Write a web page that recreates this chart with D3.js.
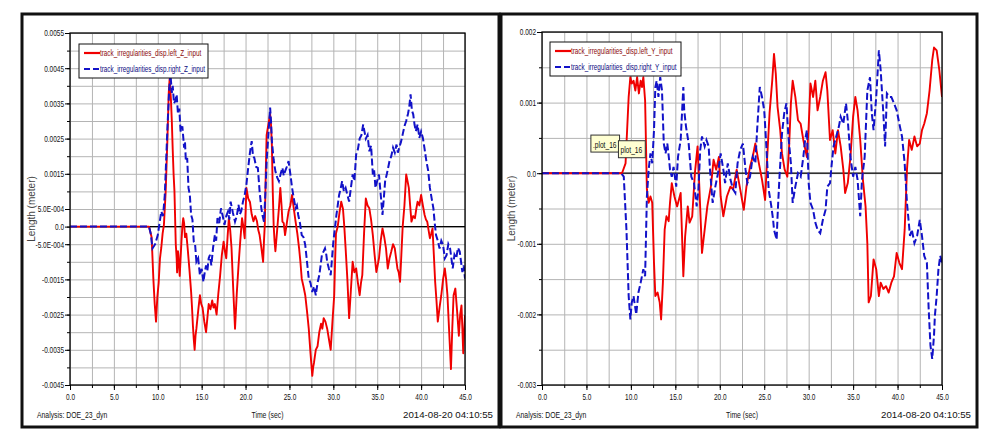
<!DOCTYPE html>
<html><head><meta charset="utf-8">
<script src="https://cdn.jsdelivr.net/npm/d3@7"></script>
<style>
body{margin:0;background:#fff;}
svg text{font-family:"Liberation Sans",Arial,sans-serif;}
</style></head><body>
<svg id="c" width="988" height="439"></svg>
<script>
// ---------- axis ticks & labels ----------
const timeTicks = [0,5,10,15,20,25,30,35,40,45];
const timeTickLabels = ["0.0","5.0","10.0","15.0","20.0","25.0","30.0","35.0","40.0","45.0"];
// vertical values are in millimetres (1 = 0.001 m)
const zTickValues = [5.5,4.5,3.5,2.5,1.5,0.5,0,-0.5,-1.5,-2.5,-3.5,-4.5];
const zTickLabels = ["0.0055","0.0045","0.0035","0.0025","0.0015","5.0E-004","0.0","-5.0E-004","-0.0015","-0.0025","-0.0035","-0.0045"];
const yTickValues = [2,1,0,-1,-2,-3];
const yTickLabels = ["0.002","0.001","0.0","-0.001","-0.002","-0.003"];

// ---------- series: left panel (Z), [time s, value mm] ----------
const zLeftPts = [[0,0],[9.0,0],[9.3,-0.3],[9.5,-1.5],[9.65,-2.2],[9.8,-2.7],[9.95,-2.0],[10.1,-1.6],[10.25,-0.9],[10.4,-0.6],[10.55,-0.2],[10.7,0.05],[10.9,1.0],[11.1,2.5],[11.25,3.8],[11.35,4.2],[11.5,3.6],[11.6,3.0],[11.7,2.2],[11.8,1.5],[11.9,1.0],[12.05,-0.5],[12.15,-0.9],[12.2,-1.3],[12.3,-0.7],[12.35,-0.8],[12.45,-1.2],[12.5,-1.4],[12.6,-0.9],[12.7,-0.4],[12.8,0.0],[12.9,0.24],[13.0,0.1],[13.1,-0.3],[13.25,-0.2],[13.4,-0.6],[13.6,-1.2],[13.8,-1.86],[13.9,-2.3],[14.0,-2.8],[14.1,-3.2],[14.2,-3.5],[14.3,-3.1],[14.4,-2.9],[14.6,-2.4],[14.8,-1.95],[14.95,-2.2],[15.1,-2.3],[15.3,-2.7],[15.5,-3.0],[15.65,-2.6],[15.8,-2.2],[16.0,-2.35],[16.2,-2.1],[16.35,-2.3],[16.5,-2.2],[16.7,-2.5],[16.9,-1.9],[17.1,-1.4],[17.3,-0.8],[17.5,-0.43],[17.65,-0.7],[17.8,-0.9],[17.95,-0.3],[18.1,0.24],[18.25,-0.1],[18.4,-0.6],[18.6,-1.8],[18.8,-2.9],[19.0,-1.9],[19.2,-1.1],[19.4,-0.4],[19.6,0.24],[19.75,0.0],[19.9,-0.33],[20.0,0.4],[20.1,1.1],[20.3,0.8],[20.5,0.7],[20.7,0.35],[20.9,0.15],[21.1,0.3],[21.3,0.15],[21.45,-0.1],[21.6,-0.24],[21.8,-0.6],[22.0,-1.0],[22.1,-0.4],[22.2,0.1],[22.3,1.5],[22.4,2.6],[22.6,2.9],[22.8,3.2],[22.9,2.9],[23.0,2.3],[23.1,1.0],[23.2,0.05],[23.3,-0.4],[23.4,-0.7],[23.6,-0.1],[23.8,0.52],[23.96,1.1],[24.1,0.6],[24.2,0.14],[24.35,0.1],[24.5,-0.24],[24.7,0.1],[24.9,0.43],[25.1,0.6],[25.3,0.9],[25.5,0.5],[25.7,0.14],[25.9,-0.2],[26.1,-0.62],[26.25,-1.0],[26.4,-1.48],[26.6,-1.7],[26.8,-1.95],[27.0,-2.4],[27.2,-2.9],[27.4,-3.6],[27.6,-4.24],[27.7,-4.0],[27.8,-3.86],[28.0,-3.5],[28.2,-3.4],[28.4,-3.0],[28.6,-2.76],[28.75,-2.9],[28.9,-2.6],[29.1,-2.7],[29.3,-2.9],[29.5,-3.2],[29.7,-3.5],[29.9,-2.7],[30.1,-1.95],[30.2,-1.0],[30.3,-0.2],[30.5,0],[30.7,0.4],[30.9,0.71],[31.1,0.5],[31.25,0.0],[31.4,-0.62],[31.6,-1.5],[31.8,-2.6],[32.0,-1.8],[32.2,-1.0],[32.4,-1.3],[32.6,-1.19],[32.8,-1.6],[33.0,-1.95],[33.15,-1.6],[33.3,-1.38],[33.5,-0.2],[33.7,0.8],[33.9,0.6],[34.1,0.52],[34.3,0.2],[34.5,-0.24],[34.7,-0.8],[34.9,-1.29],[35.05,-1.1],[35.2,-0.9],[35.4,-0.4],[35.6,-0.05],[35.8,-0.3],[36.0,-0.62],[36.1,-0.9],[36.2,-1.19],[36.4,-0.9],[36.6,-0.71],[36.8,-0.5],[37.0,-0.62],[37.15,-0.9],[37.3,-1.19],[37.45,-1.3],[37.6,-1.57],[37.75,-0.8],[37.9,0],[38.1,0.6],[38.3,1.48],[38.45,1.3],[38.6,1.1],[38.75,0.6],[38.9,0.14],[39.1,0.3],[39.3,0.24],[39.45,0.5],[39.6,0.71],[39.8,0.6],[40.0,0.9],[40.2,0.6],[40.4,0.33],[40.55,0.2],[40.7,0.14],[40.85,-0.1],[41.0,-0.33],[41.15,-0.2],[41.3,-0.05],[41.45,-0.8],[41.6,-1.57],[41.75,-2.1],[41.9,-2.7],[42.1,-2.3],[42.3,-1.95],[42.5,-1.5],[42.7,-1.19],[42.85,-1.5],[43.0,-1.95],[43.2,-3.0],[43.4,-4.05],[43.55,-2.9],[43.7,-1.95],[43.9,-1.76],[44.1,-2.4],[44.3,-3.1],[44.45,-2.5],[44.6,-2.24],[44.7,-2.9],[44.8,-3.6],[44.9,-3.0],[45.0,-2.52]];
const zRightPts = [[0,0],[9.0,0],[9.2,-0.2],[9.4,-0.62],[9.7,-0.5],[10.0,-0.24],[10.2,0.1],[10.4,0.43],[10.6,0.3],[10.8,0.9],[11.1,2.8],[11.3,3.9],[11.45,4.33],[11.6,3.8],[11.7,4.0],[11.85,3.5],[12.0,3.57],[12.15,3.75],[12.3,3.2],[12.45,3.35],[12.6,2.7],[12.8,2.85],[13.0,2.24],[13.1,2.4],[13.2,1.86],[13.35,1.95],[13.5,1.1],[13.65,0.9],[13.8,0.33],[13.95,0.2],[14.1,-0.43],[14.25,-0.5],[14.4,-1.0],[14.6,-0.9],[14.8,-1.38],[15.0,-1.2],[15.2,-1.57],[15.35,-1.3],[15.5,-1.1],[15.65,-1.25],[15.8,-0.9],[15.95,-0.8],[16.1,-1.1],[16.3,-0.6],[16.5,-0.24],[16.65,-0.4],[16.8,0.24],[17.0,0.1],[17.2,0.52],[17.4,0.3],[17.6,0.05],[17.8,0.3],[18.0,0.43],[18.15,0.2],[18.3,0.71],[18.55,0.4],[18.8,0.14],[19.0,0.3],[19.2,0.62],[19.35,0.35],[19.5,0.43],[19.7,0.7],[19.9,0.9],[20.1,1.2],[20.3,1.67],[20.5,2.1],[20.7,2.43],[20.85,2.0],[21.0,1.95],[21.2,1.7],[21.4,1.67],[21.6,1.0],[21.8,0.52],[21.95,0.3],[22.1,0.14],[22.25,0.9],[22.4,1.86],[22.6,2.6],[22.8,3.38],[22.9,3.0],[23.0,2.43],[23.2,1.9],[23.4,1.57],[23.6,1.4],[23.8,1.29],[24.0,1.5],[24.2,1.67],[24.35,1.45],[24.5,1.57],[24.7,1.7],[24.9,1.86],[25.1,1.5],[25.3,1.1],[25.5,0.8],[25.7,0.52],[25.85,0.6],[26.0,0.33],[26.2,0.1],[26.4,-0.24],[26.6,-0.3],[26.8,-0.52],[27.0,-1.0],[27.2,-1.48],[27.4,-1.6],[27.6,-1.86],[27.8,-1.7],[28.0,-1.95],[28.2,-1.6],[28.4,-1.38],[28.55,-1.1],[28.7,-0.8],[28.9,-0.7],[29.05,-0.62],[29.2,-0.8],[29.3,-1.0],[29.5,-1.2],[29.7,-1.38],[29.85,-0.9],[30.0,-0.43],[30.2,0.0],[30.35,0.33],[30.5,0.6],[30.66,0.9],[30.85,1.1],[31.0,1.29],[31.2,1.0],[31.4,1.1],[31.6,0.9],[31.8,0.71],[32.0,1.1],[32.2,1.48],[32.4,1.3],[32.6,2.05],[32.8,2.2],[33.0,2.5],[33.2,2.6],[33.4,2.9],[33.55,2.7],[33.7,2.5],[33.9,2.6],[34.1,2.14],[34.3,2.3],[34.5,1.48],[34.65,1.6],[34.8,1.1],[35.0,1.3],[35.2,1.48],[35.4,0.9],[35.6,0.33],[35.75,0.8],[35.9,1.29],[36.1,1.5],[36.4,1.86],[36.6,2.0],[36.8,2.24],[37.0,2.1],[37.2,2.33],[37.35,2.1],[37.5,2.24],[37.7,2.4],[37.9,2.62],[38.1,2.85],[38.3,3.0],[38.5,3.2],[38.65,3.4],[38.8,3.76],[38.95,3.3],[39.1,3.19],[39.25,2.9],[39.4,2.71],[39.6,2.9],[39.8,2.52],[40.0,2.7],[40.2,2.52],[40.4,2.2],[40.6,1.86],[40.8,1.6],[41.0,1.1],[41.2,0.8],[41.4,0.52],[41.55,0.1],[41.7,-0.24],[41.9,-0.4],[42.1,-0.62],[42.3,-0.4],[42.5,-0.52],[42.7,-0.9],[42.9,-0.81],[43.1,-0.5],[43.3,-0.62],[43.45,-0.9],[43.6,-1.19],[43.8,-0.8],[44.0,-0.9],[44.2,-0.6],[44.4,-0.71],[44.55,-1.0],[44.7,-1.29],[44.85,-1.1],[45.0,-1.48]];

// ---------- series: right panel (Y), [time s, value mm] ----------
const yLeftT = [0,9.0,9.4,9.75,9.94,10.1,10.3,10.5,10.7,10.9,11.1,11.25,11.4,11.6,11.8,12.0,12.2,12.4,12.6,12.75,13.0,13.24,13.4,13.6,13.8,14.0,14.25,14.4,14.6,14.9,15.2,15.6,15.9,16.1,16.4,16.6,16.9,17.2,17.5,17.7,18.0,18.3,18.6,19.0,19.3,19.6,19.9,20.1,20.4,20.8,21.2,21.5,21.9,22.3,22.7,23.0,23.4,23.7,24.0,24.4,24.75,25.1,25.3,25.6,25.9,26.1,26.3,26.5,26.8,27.0,27.3,27.6,27.8,28.0,28.2,28.5,28.8,29.1,29.4,29.8,30.0,30.2,30.5,30.75,31.0,31.3,31.6,31.9,32.1,32.4,32.7,33.0,33.3,33.6,33.9,34.1,34.4,34.7,35.0,35.25,35.5,35.8,36.1,36.4,36.6,36.75,37.0,37.3,37.6,37.9,38.1,38.4,38.7,39.0,39.3,39.6,39.9,40.2,40.5,40.8,41.06,41.3,41.6,41.9,42.2,42.5,42.75,43.0,43.3,43.6,43.9,44.1,44.4,44.7,45.0];
const yLeftV = [0,0,0.14,1.08,1.36,1.27,1.31,1.17,1.36,1.13,1.31,1.22,1.36,1.03,-0.23,-0.42,-0.33,-0.42,-1.27,-1.74,-1.69,-1.83,-2.07,-1.55,-0.8,-0.61,-0.68,-0.42,-0.14,-0.33,-0.47,-0.28,-1.46,-0.9,-0.47,-0.7,-0.61,0,0.38,-0.19,-1.13,-0.8,-0.47,-0.19,0.19,0.05,0.23,-0.33,-0.61,-0.33,-0.19,-0.23,0.05,-0.23,-0.52,-0.19,0.09,0.23,0.42,0.14,-0.09,-0.38,0.14,0.85,1.31,1.69,1.41,0.94,0.61,0.28,0.05,-0.05,0.38,0.99,1.31,1.08,0.75,0.7,0.47,0.23,0.66,1.27,1.08,1.31,0.89,1.08,1.31,1.43,1.17,0.47,0.61,0.28,0.61,0.38,0.05,-0.28,-0.14,0.23,0.8,1.08,0.89,0.47,-0.09,-0.47,-0.99,-1.83,-1.74,-1.22,-1.36,-1.74,-1.55,-1.64,-1.6,-1.69,-1.55,-1.46,-1.13,-1.27,-1.36,-0.8,0.05,0.47,0.33,0.52,0.38,0.42,0.61,0.7,0.85,1.17,1.6,1.78,1.74,1.46,1.08];
const yRightT = [0,8.9,9.2,9.5,9.75,9.94,10.1,10.3,10.6,10.85,11.1,11.4,11.6,11.8,12.0,12.2,12.4,12.6,12.75,12.9,13.1,13.3,13.5,13.7,13.9,14.1,14.3,14.4,14.6,14.8,15.1,15.3,15.6,15.9,16.0,16.2,16.5,16.8,17.1,17.4,17.6,17.8,18.0,18.3,18.5,18.75,18.9,19.2,19.5,19.8,20.1,20.4,20.6,20.9,21.2,21.5,21.75,22.0,22.3,22.6,22.9,23.1,23.4,23.7,24.0,24.2,24.5,24.75,25.0,25.2,25.5,25.8,26.0,26.1,26.4,26.5,26.7,27.0,27.25,27.5,27.7,28.0,28.2,28.5,28.8,29.1,29.4,29.6,29.8,30.0,30.2,30.5,30.75,31.0,31.3,31.6,31.9,32.1,32.4,32.6,32.8,33.1,33.4,33.6,33.9,34.2,34.4,34.7,35.0,35.25,35.5,35.8,36.0,36.3,36.6,36.9,37.1,37.3,37.6,37.9,38.1,38.4,38.6,38.8,39.1,39.3,39.6,39.9,40.2,40.5,40.8,41.06,41.4,41.6,41.9,42.2,42.5,42.75,43.0,43.3,43.5,43.7,43.9,44.1,44.2,44.4,44.6,44.8,45.0];
const yRightV = [0,0,-0.05,-0.8,-1.74,-2.07,-1.83,-1.74,-2.0,-1.69,-1.55,-1.36,-1.46,-0.33,0.05,0.28,0.14,0.61,1.22,1.31,1.08,1.36,1.17,0.42,0.28,0.42,0.19,0.05,-0.05,0.09,-0.19,0.23,0.47,1.22,0.89,0.66,0.42,-0.05,-0.14,-0.47,-0.23,0.33,0.52,0.38,0.47,0.38,0.05,-0.42,-0.19,0,0.28,0.05,-0.14,0.14,-0.09,-0.23,-0.28,0.14,0.33,0.42,0.05,-0.14,-0.05,0.23,0.14,0.61,1.22,1.08,0.89,0.47,-0.23,-0.47,-0.66,-0.8,-0.94,-0.61,-0.09,0.56,0.85,0.99,0.56,0.14,-0.42,-0.19,0,-0.05,0.23,0.47,0.61,-0.14,-0.42,-0.52,-0.7,-0.8,-0.85,-0.66,-0.52,-0.19,-0.14,0.14,0.38,0.52,0.66,0.8,0.7,0.99,0.75,0.23,-0.05,0.09,-0.09,-0.61,-0.09,0.23,1.17,1.36,0.85,0.61,1.08,1.74,1.46,0.85,0.38,1.13,1.08,1.08,0.99,0.89,0.7,0.52,0.14,-0.42,-0.89,-0.8,-0.99,-0.89,-0.66,-0.89,-1.17,-1.27,-1.92,-2.44,-2.63,-2.3,-2.02,-1.74,-1.36,-1.17,-1.27];

// ---------- texts ----------
const zSeriesNames = ["track_irregularities_disp.left_Z_input","track_irregularities_disp.right_Z_input"];
const ySeriesNames = ["track_irregularities_disp.left_Y_input","track_irregularities_disp.right_Y_input"];
const analysisText = "Analysis: DOE_23_dyn";
const xTitle = "Time (sec)";
const yTitle = "Length (meter)";
const stampText = "2014-08-20 04:10:55";
const annoT = [5.5, 8.6];
const annoV = [0.54, 0.46];
const annoText = [".plot_16", "plot_16"];

const RED = "#f00000", BLUE = "#1212c8";
const svg = d3.select("#c");

// squeeze text horizontally to imitate a narrow face
function narrow(sel, f){
  sel.each(function(){
    const w = this.getComputedTextLength();
    d3.select(this).attr("textLength", w*f).attr("lengthAdjust","spacingAndGlyphs");
  });
}

function panel(cfg){
  const g = svg.append("g");
  g.append("rect").attr("x",cfg.fx).attr("y",cfg.fy).attr("width",cfg.fw).attr("height",cfg.fh)
    .attr("fill","#fff").attr("stroke","#111").attr("stroke-width",3);
  const x = d3.scaleLinear().domain([0,45]).range([cfg.px0,cfg.px1]);
  const y = d3.scaleLinear().domain(cfg.dom).range([cfg.py1,cfg.py0]);
  const W = cfg.px1-cfg.px0, H = cfg.py1-cfg.py0;
  const minorX = d3.range(0,45.01,2.5);
  const minorY = d3.range(cfg.dom[0],cfg.dom[1]+0.001,0.5);
  // grid
  g.append("g").attr("transform",`translate(0,${cfg.py1})`)
    .call(d3.axisBottom(x).tickValues(minorX).tickSize(-H).tickFormat(""))
    .call(a=>{a.select(".domain").remove();a.selectAll("line").attr("stroke","#b4b4b4");});
  g.append("g").attr("transform",`translate(${cfg.px0},0)`)
    .call(d3.axisLeft(y).tickValues(minorY).tickSize(-W).tickFormat(""))
    .call(a=>{a.select(".domain").remove();a.selectAll("line").attr("stroke","#b4b4b4");});
  g.append("line").attr("x1",cfg.px0).attr("x2",cfg.px1).attr("y1",y(0)).attr("y2",y(0))
    .attr("stroke","#000").attr("stroke-width",1.3);
  // series
  const line = d3.line().x(d=>x(d[0])).y(d=>y(d[1]));
  const clip = "clip"+cfg.id;
  g.append("clipPath").attr("id",clip).append("rect").attr("x",cfg.px0).attr("y",cfg.py0).attr("width",W).attr("height",H);
  g.append("path").datum(cfg.a).attr("d",line).attr("fill","none")
    .attr("stroke",RED).attr("stroke-width",1.9).attr("stroke-linejoin","round").attr("clip-path",`url(#${clip})`);
  g.append("path").datum(cfg.b).attr("d",line).attr("fill","none")
    .attr("stroke",BLUE).attr("stroke-width",2).attr("stroke-dasharray","7,3").attr("clip-path",`url(#${clip})`);
  g.append("rect").attr("x",cfg.px0).attr("y",cfg.py0).attr("width",W).attr("height",H)
    .attr("fill","none").attr("stroke","#000").attr("stroke-width",1.3);
  // axes
  const fs = "9px";
  g.append("g").attr("transform",`translate(0,${cfg.py1})`)
    .call(d3.axisBottom(x).tickValues(minorX).tickSize(3).tickFormat(""))
    .call(a=>{a.select(".domain").remove();a.selectAll("line").attr("stroke","#000");});
  g.append("g").attr("transform",`translate(0,${cfg.py1})`)
    .call(d3.axisBottom(x).tickValues(timeTicks).tickSize(5).tickPadding(4).tickFormat((d,i)=>timeTickLabels[i]))
    .call(a=>{a.select(".domain").remove();a.selectAll("line").attr("stroke","#000");
      a.selectAll("text").attr("font-size",fs).attr("fill","#111").attr("font-family",null).call(narrow,0.72);});
  g.append("g").attr("transform",`translate(${cfg.px0},0)`)
    .call(d3.axisLeft(y).tickValues(minorY).tickSize(3).tickFormat(""))
    .call(a=>{a.select(".domain").remove();a.selectAll("line").attr("stroke","#000");});
  g.append("g").attr("transform",`translate(${cfg.px0},0)`)
    .call(d3.axisLeft(y).tickValues(cfg.tv).tickSize(5).tickPadding(1).tickFormat((d,i)=>cfg.tl[i]))
    .call(a=>{a.select(".domain").remove();a.selectAll("line").attr("stroke","#000");
      a.selectAll("text").attr("font-size",fs).attr("fill","#111").attr("font-family",null).call(narrow,0.72);});
  // titles
  g.append("text").attr("transform",`translate(${cfg.fx+cfg.tx},${(cfg.py0+cfg.py1)/2}) rotate(-90)`)
    .attr("text-anchor","middle").attr("font-size","10px").attr("fill","#444").text(yTitle);
  const by = cfg.fy+cfg.fh-9;
  g.append("text").attr("x",cfg.fx+15).attr("y",by).attr("font-size","9.5px").attr("fill","#111").text(analysisText).call(narrow,0.72);
  g.append("text").attr("x",(cfg.px0+cfg.px1)/2).attr("y",by).attr("text-anchor","middle").attr("font-size","9.5px").attr("fill","#111").text(xTitle).call(narrow,0.72);
  g.append("text").attr("x",cfg.fx+cfg.fw-6).attr("y",by).attr("text-anchor","end").attr("font-size","9.5px").attr("fill","#111").text(stampText).call(narrow,1.02);
  // legend
  const L = g.append("g").attr("transform",`translate(${cfg.lx},${cfg.ly})`);
  L.append("rect").attr("width",cfg.lw).attr("height",34).attr("fill","#fff").attr("stroke","#111").attr("stroke-width",1);
  L.append("line").attr("x1",5).attr("x2",21).attr("y1",9).attr("y2",9).attr("stroke",RED).attr("stroke-width",2.2);
  L.append("line").attr("x1",5).attr("x2",21).attr("y1",25).attr("y2",25).attr("stroke",BLUE).attr("stroke-width",2.2).attr("stroke-dasharray","6,3");
  L.append("text").attr("x",21).attr("y",12).attr("font-size","9px").attr("fill","#8a0a0a").text(cfg.names[0]).call(narrow,0.7);
  L.append("text").attr("x",21).attr("y",28).attr("font-size","9px").attr("fill","#0a0a80").text(cfg.names[1]).call(narrow,0.7);
  return {g,x,y};
}

panel({id:"L",fx:22,fy:14,fw:477,fh:413,px0:70,px1:465,py0:33,py1:385,dom:[-4.5,5.5],
  tv:zTickValues,tl:zTickLabels,a:zLeftPts,b:zRightPts,
  names:zSeriesNames,lx:79,ly:44,lw:129,tx:13});
const R = panel({id:"R",fx:501,fy:14,fw:476,fh:413,px0:542,px1:942,py0:32,py1:385,dom:[-3,2],
  tv:yTickValues,tl:yTickLabels,a:d3.zip(yLeftT,yLeftV),b:d3.zip(yRightT,yRightV),
  names:ySeriesNames,lx:550,ly:42,lw:131,tx:14});

// annotation tags
annoText.forEach((t,i)=>{
  const a = R.g.append("g").attr("transform",`translate(${R.x(annoT[i])},${R.y(annoV[i])})`);
  const r = a.append("rect").attr("fill","#ffffd2").attr("stroke","#333").attr("stroke-width",1);
  const tx = a.append("text").attr("x",2).attr("y",12.5).attr("font-size","9.5px").attr("fill","#111").text(t).call(narrow,0.7);
  const w = +tx.attr("textLength");
  r.attr("width",w+5).attr("height",17);
});
</script></body></html>
